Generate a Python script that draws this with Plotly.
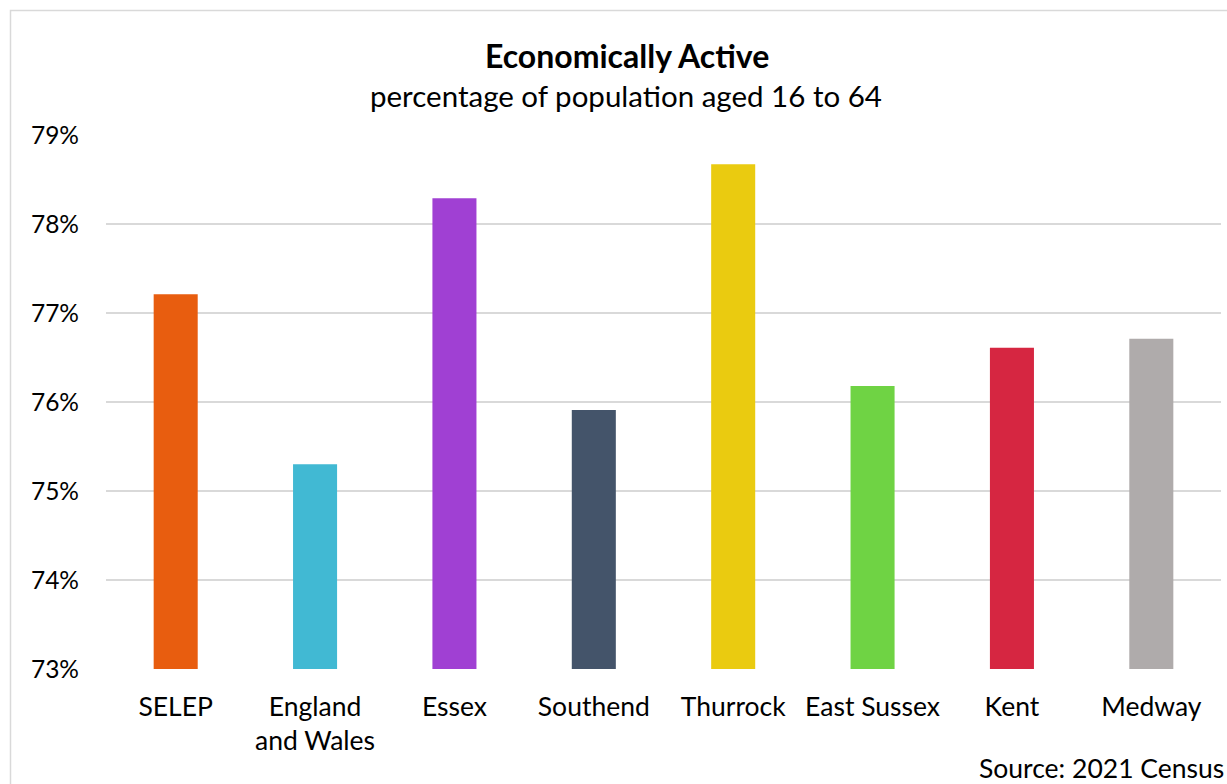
import plotly.graph_objects as go

# Economically active share of the 16-64 population, 2021 Census
areas = ["SELEP", "England<br>and Wales", "Essex", "Southend", "Thurrock",
         "East Sussex", "Kent", "Medway"]
active_pct = [77.21, 75.30, 78.29, 75.91, 78.67, 76.18, 76.61, 76.71]
bar_colors = ["#E85D0F", "#41B9D3", "#A040D3", "#44546A", "#EACB10",
              "#6FD344", "#D62641", "#AFABAB"]
y_ticks = [73, 74, 75, 76, 77, 78, 79]

W, H = 1227, 784
L, R, T, B = 106, 6, 135, 115
pw, ph = W - L - R, H - T - B

FONT = "Lato"

fig = go.Figure(
    go.Bar(
        x=areas,
        y=active_pct,
        marker=dict(color=bar_colors, line=dict(width=0)),
        hoverinfo="x+y",
    )
)

fig.update_layout(
    width=W,
    height=H,
    margin=dict(l=L, r=R, t=T, b=B),
    paper_bgcolor="white",
    plot_bgcolor="white",
    bargap=0.684,
    showlegend=False,
    font=dict(family=FONT, color="#000000", size=24),
)

fig.update_yaxes(
    range=[73, 79],
    tickvals=y_ticks,
    ticktext=[f"{v}%" for v in y_ticks],
    showgrid=True,
    gridcolor="#D9D9D9",
    gridwidth=1.5,
    zeroline=False,
    showline=False,
    ticks="",
    ticklabelstandoff=26,
    tickfont=dict(family=FONT, size=24.5, color="#000000"),
)

fig.update_xaxes(
    showgrid=False,
    showline=False,
    ticks="",
    ticklabelstandoff=19,
    tickfont=dict(family=FONT, size=26.5, color="#000000"),
)

# Outer chart frame
fig.add_shape(
    type="rect", xref="paper", yref="paper",
    x0=(10.5 - L) / pw, x1=(W + 20 - L) / pw,
    y0=(B - 40 - H + T) / ph, y1=(H - B - 10.5) / ph,
    line=dict(color="#D9D9D9", width=1.5),
    fillcolor="rgba(0,0,0,0)",
    layer="below",
)

# Title and subtitle
fig.add_annotation(
    text="<b>Economically Active</b>", xref="paper", yref="paper",
    x=(627 - L) / pw, y=(H - B - 55) / ph, xanchor="center", yanchor="middle",
    showarrow=False, font=dict(family=FONT, size=32, color="#000000"),
)
fig.add_annotation(
    text="percentage of population aged 16 to 64", xref="paper", yref="paper",
    x=(626 - L) / pw, y=(H - B - 96) / ph, xanchor="center", yanchor="middle",
    showarrow=False, font=dict(family=FONT, size=29.5, color="#000000"),
)

# Source note
fig.add_annotation(
    text="Source: 2021 Census", xref="paper", yref="paper",
    x=(1226 - L) / pw, y=(H - B - 768) / ph, xanchor="right", yanchor="middle",
    showarrow=False, font=dict(family=FONT, size=26.5, color="#000000"),
)

fig.write_html("out.html")
